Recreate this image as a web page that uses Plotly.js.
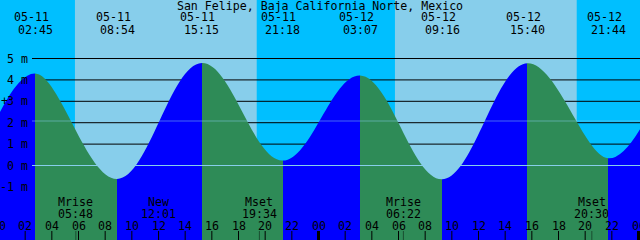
<!DOCTYPE html>
<html><head><meta charset="utf-8">
<script src="https://cdn.plot.ly/plotly-3.0.1.min.js"></script>
<style>html,body{margin:0;padding:0;background:#87CEEB;}#chart{width:640px;height:240px;}</style>
</head><body><div id="chart"></div>
<script>
// ---- data ----
const titleText = 'San Felipe, Baja California Norte, Mexico';
const viewStart = '2024-05-11 00:06:45';
const viewEnd = '2024-05-13 00:06:45';
const tideTimes = ['2024-05-11 02:45', '2024-05-11 08:54', '2024-05-11 15:15', '2024-05-11 21:18',
                   '2024-05-12 03:07', '2024-05-12 09:16', '2024-05-12 15:40', '2024-05-12 21:44'];
const tideHeights = [4.30, -0.63, 4.79, 0.23, 4.21, -0.64, 4.78, 0.34];
const tideDateLabels = ['05-11', '05-11', '05-11', '05-11', '05-12', '05-12', '05-12', '05-12'];
const tideClockLabels = ['02:45', '08:54', '15:15', '21:18', '03:07', '09:16', '15:40', '21:44'];
const edgeHeights = [2.5, 1.7];           // level at the left and right picture edges
const sunrises = ['2024-05-11 05:44', '2024-05-12 05:44'];
const sunsets = ['2024-05-11 19:22', '2024-05-12 19:22'];
const moonTimes = ['2024-05-11 05:48', '2024-05-11 12:01', '2024-05-11 19:34', '2024-05-12 06:22', '2024-05-12 20:30'];
const moonNames = ['Mrise', 'New', 'Mset', 'Mrise', 'Mset'];
const moonClock = ['05:48', '12:01', '19:34', '06:22', '20:30'];
const levelLabels = [5, 4, 3, 2, 1, 0, -1];
const gridLevels = [5, 4, 3, 2, 1];
const datumLevel = 0;
const mslLevel = 2.08;
const hourDays = ['2024-05-11', '2024-05-12', '2024-05-13'];
const hourLabels = ['00', '02', '04', '06', '08', '10', '12', '14', '16', '18', '20', '22'];

// ---- helpers ----
function toMs(s) {
  const m = s.match(/(\d+)-(\d+)-(\d+) (\d+):(\d+)(?::(\d+))?/);
  return Date.UTC(+m[1], +m[2] - 1, +m[3], +m[4], +m[5], +(m[6] || 0));
}
const t0 = toMs(viewStart), t1 = toMs(viewEnd);
const frac = s => (toMs(s) - t0) / (t1 - t0);

const RISE = '#0000FF', FALL = '#2E8B57', DAY = '#87CEEB', NIGHT = '#00BFFF';
const FONT = {family: 'DejaVu Sans Mono, monospace', size: 11.6, color: '#000000'};
const H = 240, W = 640;
const py = px => 1 - px / H;

// fill colour scale: rising blue, falling green, switching at each extreme
const cs = [];
let prev = tideHeights[0] > edgeHeights[0] ? RISE : FALL;
cs.push([0, prev]);
tideTimes.forEach((t, i) => {
  const nextH = i + 1 < tideTimes.length ? tideHeights[i + 1] : edgeHeights[1];
  const next = nextH > tideHeights[i] ? RISE : FALL;
  const f = frac(t);
  cs.push([f, prev]);
  cs.push([f, next]);
  prev = next;
});
cs.push([1, prev]);

const traces = [
  {x: [viewStart, viewEnd], y: [-10, -10], mode: 'lines', line: {width: 0},
   hoverinfo: 'skip', showlegend: false},
  {x: [viewStart].concat(tideTimes, [viewEnd]),
   y: [edgeHeights[0]].concat(tideHeights, [edgeHeights[1]]),
   mode: 'lines', line: {shape: 'spline', smoothing: 1.1, width: 0},
   fill: 'tonexty', fillcolor: RISE,
   fillgradient: {type: 'horizontal', colorscale: cs},
   hoverinfo: 'skip', showlegend: false}
];

const shapes = [];
// night bands
const nightStarts = [viewStart].concat(sunsets);
const nightEnds = sunrises.concat([viewEnd]);
nightStarts.forEach((s, i) => shapes.push({type: 'rect', layer: 'below', xref: 'x', yref: 'paper',
  x0: s, x1: nightEnds[i], y0: 0, y1: 1, fillcolor: NIGHT, line: {width: 0}}));
// black level lines (behind the water)
gridLevels.forEach(v => shapes.push({type: 'line', layer: 'below', xref: 'paper', yref: 'y',
  x0: 32 / W, x1: 1, y0: v, y1: v, line: {color: '#000000', width: 1}}));
// datum and mean sea level lines (over the water)
shapes.push({type: 'line', xref: 'paper', yref: 'y', x0: 32 / W, x1: 1, y0: datumLevel, y1: datumLevel,
  line: {color: '#87CEEB', width: 1}});
shapes.push({type: 'line', xref: 'paper', yref: 'y', x0: 32 / W, x1: 1, y0: mslLevel, y1: mslLevel,
  line: {color: 'rgba(135,206,235,0.5)', width: 1}});

const annotations = [];
// hour ticks and labels
hourDays.forEach((d, di) => {
  hourLabels.forEach((lab, hi) => {
    const t = d + ' ' + lab + ':00';
    const f = frac(t);
    if (f > 1.02) return;
    const midnight = lab === '00';
    if (f >= 0 && f <= 1) {
      shapes.push({type: 'line', xref: 'x', yref: 'paper', x0: t, x1: t, y0: 0, y1: 9 / H,
        line: {color: '#000000', width: midnight ? 3 : 1}});
      annotations.push({x: t, xref: 'x', y: py(225.5), yref: 'paper', text: lab,
        showarrow: false, xanchor: 'center', yanchor: 'middle', font: FONT});
    } else if (f < 0) {
      annotations.push({x: f, xref: 'paper', y: py(225.5), yref: 'paper', text: lab,
        showarrow: false, xanchor: 'center', yanchor: 'middle', font: FONT});
    }
  });
});
// moon events
moonTimes.forEach((t, i) => {
  shapes.push({type: 'line', xref: 'x', yref: 'paper', x0: t, x1: t, y0: 0, y1: 9 / H,
    line: {color: 'rgba(0,0,0,0.45)', width: 1}});
  annotations.push({x: t, xref: 'x', y: py(202), yref: 'paper', text: moonNames[i],
    showarrow: false, xanchor: 'center', yanchor: 'middle', font: FONT});
  annotations.push({x: t, xref: 'x', y: py(214), yref: 'paper', text: moonClock[i],
    showarrow: false, xanchor: 'center', yanchor: 'middle', font: FONT});
});
// tide extreme labels
tideTimes.forEach((t, i) => {
  annotations.push({x: t, xref: 'x', y: py(17.5), yref: 'paper', text: tideDateLabels[i], xshift: -4,
    showarrow: false, xanchor: 'center', yanchor: 'middle', font: FONT});
  annotations.push({x: t, xref: 'x', y: py(29.5), yref: 'paper', text: tideClockLabels[i],
    showarrow: false, xanchor: 'center', yanchor: 'middle', font: FONT});
});
// level labels
levelLabels.forEach(v => annotations.push({x: 29.5 / W, xref: 'paper', y: v, yref: 'y', text: v + ' m',
  showarrow: false, xanchor: 'right', yanchor: 'middle', font: FONT}));
annotations.push({x: 4.5 / W, xref: 'paper', y: 3, yref: 'y', text: '+',
  showarrow: false, xanchor: 'center', yanchor: 'middle', font: FONT});

const layout = {
  width: W, height: H,
  margin: {l: 0, r: 0, t: 0, b: 0, pad: 0},
  paper_bgcolor: DAY, plot_bgcolor: DAY,
  title: {text: titleText, x: 0.5, xanchor: 'center', xref: 'paper', y: py(5.5), yanchor: 'middle',
          yref: 'container', font: FONT, pad: {t: 0, b: 0, l: 0, r: 0}},
  xaxis: {type: 'date', range: [viewStart, viewEnd], visible: false, fixedrange: true},
  yaxis: {range: [-3.481, 7.734], visible: false, fixedrange: true},
  showlegend: false,
  shapes: shapes,
  annotations: annotations
};
Plotly.newPlot('chart', traces, layout, {displayModeBar: false, staticPlot: true});
</script>
</body></html>
